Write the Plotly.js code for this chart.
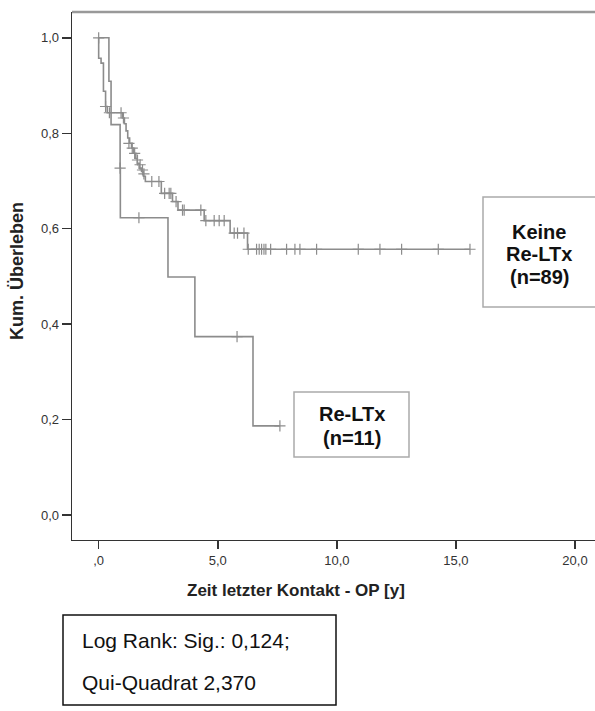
<!DOCTYPE html>
<html>
<head>
<meta charset="utf-8">
<script src="https://cdn.plot.ly/plotly-3.0.1.min.js"></script>
<style>html,body{margin:0;padding:0;background:#fff;}#chart{width:595px;height:711px;}</style>
</head>
<body>
<div id="chart"></div>
<script>
// Kaplan-Meier step data: Keine Re-LTx (n=89)
const keineTime = [0, 0.0, 0.1, 0.2, 0.29, 0.36, 1.0, 1.08, 1.15, 1.22, 1.3, 1.38, 1.46, 1.56, 1.62, 1.7, 1.8, 1.88, 1.96, 2.63, 3.1, 3.33, 4.43, 5.52, 6.25, 15.59];
const keineSurv = [1.0, 0.957, 0.947, 0.888, 0.856, 0.843, 0.832, 0.82, 0.805, 0.79, 0.779, 0.769, 0.758, 0.747, 0.737, 0.727, 0.72, 0.71, 0.699, 0.674, 0.657, 0.639, 0.617, 0.591, 0.557, 0.557];
const keineCensTime = [0, 0.29, 0.45, 0.94, 1.04, 1.27, 1.41, 1.51, 1.63, 1.74, 1.84, 1.9, 2.23, 2.53, 2.77, 2.96, 3.03, 3.25, 3.52, 3.59, 4.29, 4.5, 4.85, 5.06, 5.27, 5.69, 5.83, 6.1,
  6.28, 6.63, 6.74, 6.84, 6.94, 7.02, 7.22, 7.89, 8.24, 8.45, 9.15, 10.9, 11.81, 12.72, 14.26, 15.59];
const keineCensSurv = [1.0, 0.856, 0.843, 0.843, 0.832, 0.779, 0.769, 0.758, 0.744, 0.734, 0.723, 0.715, 0.699, 0.699, 0.674, 0.674, 0.674, 0.657, 0.639, 0.639, 0.639, 0.617, 0.617, 0.617, 0.617, 0.591, 0.591, 0.591,
  0.557, 0.557, 0.557, 0.557, 0.557, 0.557, 0.557, 0.557, 0.557, 0.557, 0.557, 0.557, 0.557, 0.557, 0.557, 0.557];

// Re-LTx (n=11)
const reTime = [0, 0.43, 0.52, 0.9, 0.91, 2.91, 4.04, 6.48, 7.61];
const reSurv = [1.0, 0.909, 0.818, 0.727, 0.623, 0.499, 0.374, 0.187, 0.187];
const reCensTime = [0.9, 1.69, 5.81, 7.61];
const reCensSurv = [0.727, 0.623, 0.374, 0.187];

// Axis ticks
const xTicks = [0, 5, 10, 15, 20];
const xTickText = [",0", "5,0", "10,0", "15,0", "20,0"];
const yTicks = [0, 0.2, 0.4, 0.6, 0.8, 1.0];
const yTickText = ["0,0", "0,2", "0,4", "0,6", "0,8", "1,0"];

// Labels
const xTitle = "Zeit letzter Kontakt - OP [y]";
const yTitle = "Kum. Überleben";
const keineLabel = ["Keine", "Re-LTx", "(n=89)"];
const reLabel = ["Re-LTx", "(n=11)"];
const statLines = ["Log Rank: Sig.: 0,124;", "Qui-Quadrat 2,370"];

const FONT = "Liberation Sans, Arial, sans-serif";
const CURVE = "#8c8c8c";

const traces = [
  {x: keineTime, y: keineSurv, mode: "lines", line: {shape: "hv", color: CURVE, width: 1.6}, hoverinfo: "skip", showlegend: false},
  {x: reTime, y: reSurv, mode: "lines", line: {shape: "hv", color: CURVE, width: 1.6}, hoverinfo: "skip", showlegend: false},
  {x: keineCensTime, y: keineCensSurv, mode: "markers", marker: {symbol: "cross-thin", size: 8, line: {color: CURVE, width: 1.2}}, hoverinfo: "skip", showlegend: false},
  {x: reCensTime, y: reCensSurv, mode: "markers", marker: {symbol: "cross-thin", size: 8, line: {color: CURVE, width: 1.2}}, hoverinfo: "skip", showlegend: false}
];

// pixel -> paper helpers (plot area: x 72..595, y 12..540)
const PX = X => (X - 72) / 523;
const PY = Y => (540 - Y) / 528;

const annotations = [
  {xref: "paper", yref: "paper", x: PX(296), y: PY(590), text: "<b>" + xTitle + "</b>", showarrow: false, xanchor: "center", yanchor: "middle", font: {family: FONT, size: 17, color: "#222"}},
  {xref: "paper", yref: "paper", x: PX(17), y: PY(271), text: "<b>" + yTitle + "</b>", textangle: -90, showarrow: false, xanchor: "center", yanchor: "middle", font: {family: FONT, size: 18, color: "#222"}},
  {xref: "paper", yref: "paper", x: PX(539), y: PY(232), text: "<b>" + keineLabel[0] + "</b>", showarrow: false, xanchor: "center", yanchor: "middle", font: {family: FONT, size: 20, color: "#111"}},
  {xref: "paper", yref: "paper", x: PX(539), y: PY(254), text: "<b>" + keineLabel[1] + "</b>", showarrow: false, xanchor: "center", yanchor: "middle", font: {family: FONT, size: 20, color: "#111"}},
  {xref: "paper", yref: "paper", x: PX(539), y: PY(277), text: "<b>" + keineLabel[2] + "</b>", showarrow: false, xanchor: "center", yanchor: "middle", font: {family: FONT, size: 20, color: "#111"}},
  {xref: "paper", yref: "paper", x: PX(352), y: PY(414), text: "<b>" + reLabel[0] + "</b>", showarrow: false, xanchor: "center", yanchor: "middle", font: {family: FONT, size: 20, color: "#111"}},
  {xref: "paper", yref: "paper", x: PX(352), y: PY(438), text: "<b>" + reLabel[1] + "</b>", showarrow: false, xanchor: "center", yanchor: "middle", font: {family: FONT, size: 20, color: "#111"}},
  {xref: "paper", yref: "paper", x: PX(80), y: PY(640), text: statLines[0], showarrow: false, xanchor: "left", yanchor: "middle", font: {family: FONT, size: 21, color: "#111"}},
  {xref: "paper", yref: "paper", x: PX(80), y: PY(682), text: statLines[1], showarrow: false, xanchor: "left", yanchor: "middle", font: {family: FONT, size: 21, color: "#111"}}
];

const shapes = [
  {type: "line", xref: "paper", yref: "paper", x0: 0, x1: 1.01, y0: 1, y1: 1, line: {color: "#999", width: 2.5}},
  {type: "rect", xref: "paper", yref: "paper", x0: PX(483), x1: PX(600), y0: PY(307), y1: PY(197), line: {color: "#aaa", width: 1.5}},
  {type: "rect", xref: "paper", yref: "paper", x0: PX(294), x1: PX(409), y0: PY(457), y1: PY(392), line: {color: "#aaa", width: 1.5}},
  {type: "rect", xref: "paper", yref: "paper", x0: PX(63), x1: PX(336), y0: PY(705), y1: PY(615), line: {color: "#111", width: 1.5}}
];

const layout = {
  width: 595, height: 711,
  margin: {l: 72, r: 0, t: 12, b: 171, pad: 0},
  paper_bgcolor: "#fff", plot_bgcolor: "#fff",
  font: {family: FONT, color: "#333"},
  xaxis: {range: [-1.12, 20.84], tickvals: xTicks, ticktext: xTickText, ticks: "outside", ticklen: 8, tickwidth: 1.5, tickcolor: "#333",
    showline: true, linecolor: "#333", linewidth: 1.3, showgrid: false, zeroline: false, tickfont: {family: FONT, size: 13, color: "#333"}},
  yaxis: {range: [-0.052, 1.054], tickvals: yTicks, ticktext: yTickText, ticks: "outside", ticklen: 9, tickwidth: 1.5, tickcolor: "#333",
    showline: true, linecolor: "#333", linewidth: 1.3, showgrid: false, zeroline: false, tickfont: {family: FONT, size: 13, color: "#333"}},
  showlegend: false,
  annotations: annotations,
  shapes: shapes
};

Plotly.newPlot("chart", traces, layout, {staticPlot: true, displayModeBar: false});
</script>
</body>
</html>
